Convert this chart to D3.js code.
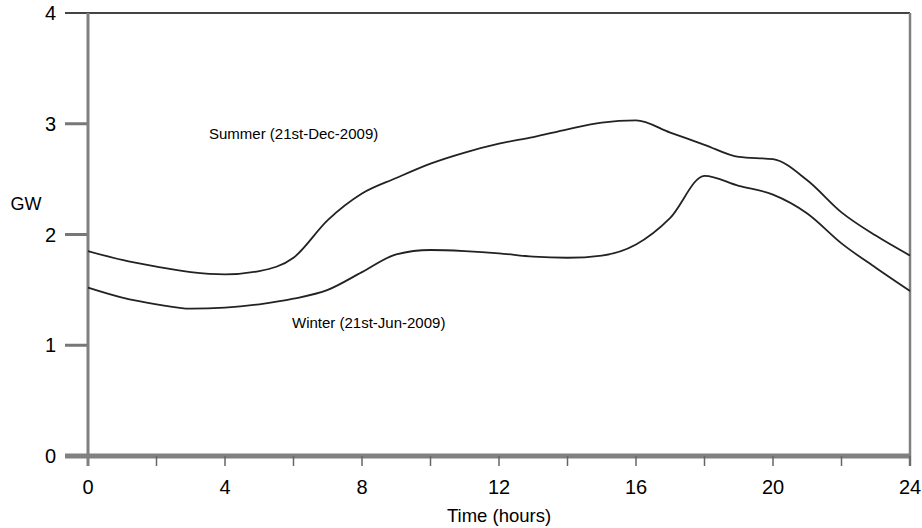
<!DOCTYPE html>
<html>
<head>
<meta charset="utf-8">
<script src="https://cdn.jsdelivr.net/npm/d3@7"></script>
<style>
  body { margin: 0; background: #fff; }
  text { font-family: "Liberation Sans", Arial, sans-serif; fill: #000; }
</style>
</head>
<body>
<div id="chart"></div>
<script>
// hours of the day
const hours = [0, 1, 2, 3, 4, 5, 6, 7, 8, 9, 10, 11, 12, 13, 14, 15, 16, 17, 18, 19, 20, 21, 22, 23, 24];
// load in GW
const summerLoad = [1.85, 1.77, 1.71, 1.66, 1.64, 1.67, 1.79, 2.13, 2.37, 2.51, 2.64, 2.74, 2.82, 2.88, 2.95, 3.01, 3.03, 2.92, 2.81, 2.70, 2.68, 2.49, 2.20, 1.99, 1.81];
const winterLoad = [1.52, 1.43, 1.37, 1.33, 1.34, 1.37, 1.42, 1.50, 1.66, 1.82, 1.86, 1.85, 1.83, 1.80, 1.79, 1.81, 1.91, 2.15, 2.53, 2.44, 2.36, 2.19, 1.92, 1.70, 1.49];
const xTickLabels = [0, 4, 8, 12, 16, 20, 24];
const xMinorTicks = [2, 6, 10, 14, 18, 22];
const yTickLabels = [0, 1, 2, 3, 4];

const width = 922, height = 528;
const margin = { top: 13, right: 12, bottom: 72, left: 88 };

const svg = d3.select("#chart").append("svg")
    .attr("width", width)
    .attr("height", height);

const x = d3.scaleLinear().domain([0, 24]).range([margin.left, width - margin.right]);
const y = d3.scaleLinear().domain([0, 4]).range([height - margin.bottom, margin.top]);

const x0 = x(0), x1 = x(24), yTop = y(4), yBot = y(0);

// frame: top line and right edge
svg.append("line")
    .attr("x1", 65).attr("x2", x1).attr("y1", yTop).attr("y2", yTop)
    .attr("stroke", "#444").attr("stroke-width", 2);
svg.append("line")
    .attr("x1", x1).attr("x2", x1).attr("y1", yTop).attr("y2", yBot + 10)
    .attr("stroke", "#808080").attr("stroke-width", 2.5);

// y ticks and labels
yTickLabels.forEach(function(v) {
    svg.append("line")
        .attr("x1", 65).attr("x2", x0).attr("y1", y(v)).attr("y2", y(v))
        .attr("stroke", v === 4 ? "#444" : "#777")
        .attr("stroke-width", v === 4 ? 2 : 3);
    svg.append("text")
        .attr("x", 56).attr("y", y(v))
        .attr("dy", "0.36em")
        .attr("text-anchor", "end")
        .style("font-size", "20px")
        .text(v);
});

// bottom axis
svg.append("line")
    .attr("x1", 65).attr("x2", x1).attr("y1", yBot).attr("y2", yBot)
    .attr("stroke", "#808080").attr("stroke-width", 5);

// x ticks
xTickLabels.concat(xMinorTicks).forEach(function(h) {
    svg.append("line")
        .attr("x1", x(h)).attr("x2", x(h)).attr("y1", yBot).attr("y2", yBot + 10)
        .attr("stroke", "#666").attr("stroke-width", 1.5);
});
xTickLabels.forEach(function(h) {
    svg.append("text")
        .attr("x", x(h)).attr("y", 487)
        .attr("dy", "0.36em")
        .attr("text-anchor", "middle")
        .style("font-size", "20px")
        .text(h);
});

// left axis
svg.append("line")
    .attr("x1", x0).attr("x2", x0).attr("y1", yTop).attr("y2", yBot + 10)
    .attr("stroke", "#808080").attr("stroke-width", 3);

// axis titles
svg.append("text")
    .attr("x", 26).attr("y", 204)
    .attr("dy", "0.36em")
    .attr("text-anchor", "middle")
    .style("font-size", "18px")
    .text("GW");
svg.append("text")
    .attr("x", 499).attr("y", 515)
    .attr("dy", "0.36em")
    .attr("text-anchor", "middle")
    .style("font-size", "18.5px")
    .text("Time (hours)");

// load curves
const line = d3.line()
    .x(function(d) { return x(d[0]); })
    .y(function(d) { return y(d[1]); })
    .curve(d3.curveMonotoneX);

[summerLoad, winterLoad].forEach(function(series) {
    svg.append("path")
        .datum(hours.map(function(h, i) { return [h, series[i]]; }))
        .attr("d", line)
        .attr("fill", "none")
        .attr("stroke", "#222")
        .attr("stroke-width", 1.8);
});

// curve labels
svg.append("text")
    .attr("x", 209).attr("y", 134)
    .attr("dy", "0.36em")
    .style("font-size", "15px")
    .text("Summer (21st-Dec-2009)");
svg.append("text")
    .attr("x", 292).attr("y", 323)
    .attr("dy", "0.36em")
    .style("font-size", "15px")
    .text("Winter (21st-Jun-2009)");
</script>
</body>
</html>
